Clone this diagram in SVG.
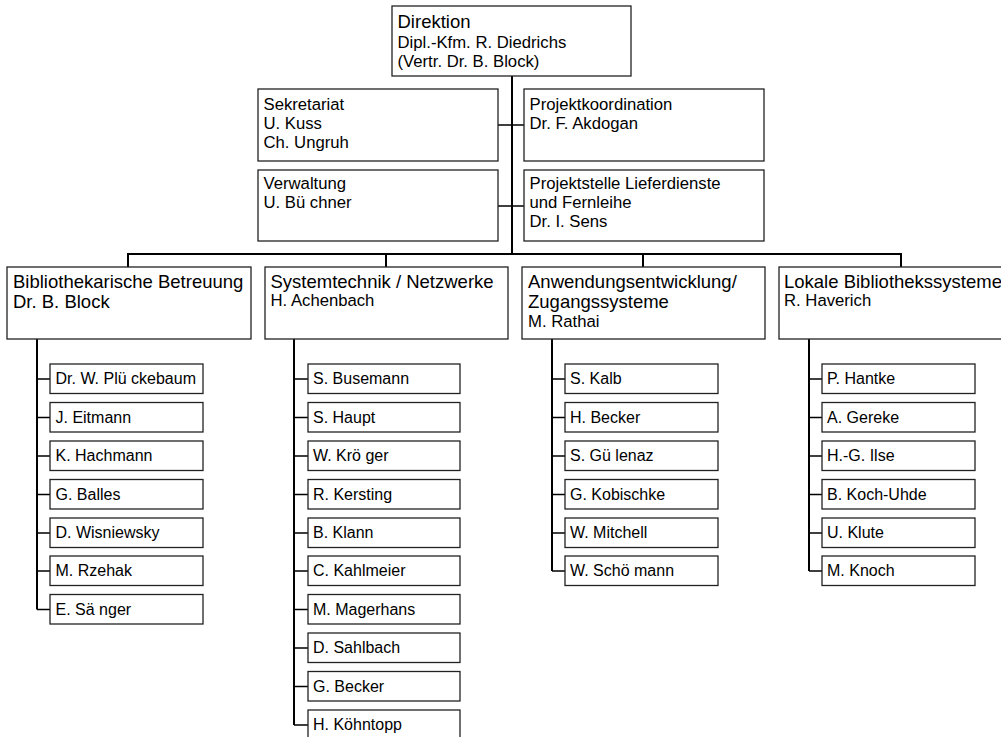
<svg xmlns="http://www.w3.org/2000/svg" width="1001" height="737" viewBox="0 0 1001 737">
<style>
.box{fill:#fff;stroke:#222;stroke-width:1.3}
.t{font-family:"Liberation Sans",Arial,sans-serif;fill:#000}
.h{font-size:18.5px}
.m{font-size:16.7px}
.s{font-size:16px}
.c{fill:none;stroke:#000;stroke-width:2}
.st{fill:none;stroke:#000;stroke-width:1.5}
</style>
<rect width="1001" height="737" fill="#fff"/>
<g id="connectors">
<path class="c" d="M512 76V254M128 254H901M128 253V267M386 253V267M643 253V267M901 253V267"/>
<path class="st" d="M498 125H524M498 206H524"/>
<path class="c" d="M37 339V609.5M294 339V725M552 339V571M809 339V571"/>
<path class="st" d="M37 379H50M37 417.5H50M37 456H50M37 494.5H50M37 533H50M37 571H50M37 609.5H50"/>
<path class="st" d="M294 379H308M294 417.5H308M294 456H308M294 494.5H308M294 533H308M294 571H308M294 609.5H308M294 648H308M294 686.5H308M294 725H308"/>
<path class="st" d="M552 379H565M552 417.5H565M552 456H565M552 494.5H565M552 533H565M552 571H565"/>
<path class="st" d="M809 379H822M809 417.5H822M809 456H822M809 494.5H822M809 533H822M809 571H822"/>
</g>
<g id="direktion"><rect class="box" x="392" y="6" width="239" height="70"/>
<text class="t h" x="397.5" y="28">Direktion</text>
<text class="t m" x="397.5" y="48">Dipl.-Kfm. R. Diedrichs</text>
<text class="t m" x="397.5" y="67">(Vertr. Dr. B. Block)</text></g>
<g id="sekretariat"><rect class="box" x="258" y="89" width="240" height="72"/>
<text class="t m" x="263.5" y="110">Sekretariat</text>
<text class="t m" x="263.5" y="129">U. Kuss</text>
<text class="t m" x="263.5" y="148">Ch. Ungruh</text></g>
<g id="projektkoordination"><rect class="box" x="524" y="89" width="240" height="72"/>
<text class="t m" x="529.5" y="110">Projektkoordination</text>
<text class="t m" x="529.5" y="129">Dr. F. Akdogan</text></g>
<g id="verwaltung"><rect class="box" x="258" y="170" width="240" height="71"/>
<text class="t m" x="263.5" y="189">Verwaltung</text>
<text class="t m" x="263.5" y="208">U. Bü chner</text></g>
<g id="projektstelle"><rect class="box" x="524" y="170" width="240" height="71"/>
<text class="t m" x="529.5" y="189">Projektstelle Lieferdienste</text>
<text class="t m" x="529.5" y="208">und Fernleihe</text>
<text class="t m" x="529.5" y="227">Dr. I. Sens</text></g>
<g id="bibliothekarische"><rect class="box" x="7" y="267" width="244" height="72"/>
<text class="t h" x="13" y="288">Bibliothekarische Betreuung</text>
<text class="t h" x="13" y="308">Dr. B. Block</text></g>
<g id="systemtechnik"><rect class="box" x="265" y="267" width="243" height="72"/>
<text class="t h" x="270.5" y="288">Systemtechnik / Netzwerke</text>
<text class="t m" x="270.5" y="306">H. Achenbach</text></g>
<g id="anwendung"><rect class="box" x="522" y="267" width="243" height="72"/>
<text class="t h" x="528" y="288">Anwendungsentwicklung/</text>
<text class="t h" x="528" y="308">Zugangssysteme</text>
<text class="t m" x="528" y="327">M. Rathai</text></g>
<g id="lokale"><rect class="box" x="779" y="267" width="244" height="72"/>
<text class="t h" x="784" y="288">Lokale Bibliothekssysteme</text>
<text class="t m" x="784" y="306">R. Haverich</text></g>
<g id="col1">
<g id="c1-1"><rect class="box" x="50" y="364" width="153" height="29.5"/><text class="t s" x="55.5" y="384">Dr. W. Plü ckebaum</text></g>
<g id="c1-2"><rect class="box" x="50" y="402.5" width="153" height="29.5"/><text class="t s" x="55.5" y="422.5">J. Eitmann</text></g>
<g id="c1-3"><rect class="box" x="50" y="441" width="153" height="29.5"/><text class="t s" x="55.5" y="461">K. Hachmann</text></g>
<g id="c1-4"><rect class="box" x="50" y="479.5" width="153" height="29.5"/><text class="t s" x="55.5" y="499.5">G. Balles</text></g>
<g id="c1-5"><rect class="box" x="50" y="518" width="153" height="29.5"/><text class="t s" x="55.5" y="538">D. Wisniewsky</text></g>
<g id="c1-6"><rect class="box" x="50" y="556" width="153" height="29.5"/><text class="t s" x="55.5" y="576">M. Rzehak</text></g>
<g id="c1-7"><rect class="box" x="50" y="594.5" width="153" height="29.5"/><text class="t s" x="55.5" y="614.5">E. Sä nger</text></g>
</g>
<g id="col2">
<g id="c2-1"><rect class="box" x="308" y="364" width="152" height="29.5"/><text class="t s" x="313" y="384">S. Busemann</text></g>
<g id="c2-2"><rect class="box" x="308" y="402.5" width="152" height="29.5"/><text class="t s" x="313" y="422.5">S. Haupt</text></g>
<g id="c2-3"><rect class="box" x="308" y="441" width="152" height="29.5"/><text class="t s" x="313" y="461">W. Krö ger</text></g>
<g id="c2-4"><rect class="box" x="308" y="479.5" width="152" height="29.5"/><text class="t s" x="313" y="499.5">R. Kersting</text></g>
<g id="c2-5"><rect class="box" x="308" y="518" width="152" height="29.5"/><text class="t s" x="313" y="538">B. Klann</text></g>
<g id="c2-6"><rect class="box" x="308" y="556" width="152" height="29.5"/><text class="t s" x="313" y="576">C. Kahlmeier</text></g>
<g id="c2-7"><rect class="box" x="308" y="594.5" width="152" height="29.5"/><text class="t s" x="313" y="614.5">M. Magerhans</text></g>
<g id="c2-8"><rect class="box" x="308" y="633" width="152" height="29.5"/><text class="t s" x="313" y="653">D. Sahlbach</text></g>
<g id="c2-9"><rect class="box" x="308" y="671.5" width="152" height="29.5"/><text class="t s" x="313" y="691.5">G. Becker</text></g>
<g id="c2-10"><rect class="box" x="308" y="710" width="152" height="29.5"/><text class="t s" x="313" y="730">H. Köhntopp</text></g>
</g>
<g id="col3">
<g id="c3-1"><rect class="box" x="565" y="364" width="153" height="29.5"/><text class="t s" x="570" y="384">S. Kalb</text></g>
<g id="c3-2"><rect class="box" x="565" y="402.5" width="153" height="29.5"/><text class="t s" x="570" y="422.5">H. Becker</text></g>
<g id="c3-3"><rect class="box" x="565" y="441" width="153" height="29.5"/><text class="t s" x="570" y="461">S. Gü lenaz</text></g>
<g id="c3-4"><rect class="box" x="565" y="479.5" width="153" height="29.5"/><text class="t s" x="570" y="499.5">G. Kobischke</text></g>
<g id="c3-5"><rect class="box" x="565" y="518" width="153" height="29.5"/><text class="t s" x="570" y="538">W. Mitchell</text></g>
<g id="c3-6"><rect class="box" x="565" y="556" width="153" height="29.5"/><text class="t s" x="570" y="576">W. Schö mann</text></g>
</g>
<g id="col4">
<g id="c4-1"><rect class="box" x="822" y="364" width="153" height="29.5"/><text class="t s" x="827" y="384">P. Hantke</text></g>
<g id="c4-2"><rect class="box" x="822" y="402.5" width="153" height="29.5"/><text class="t s" x="827" y="422.5">A. Gereke</text></g>
<g id="c4-3"><rect class="box" x="822" y="441" width="153" height="29.5"/><text class="t s" x="827" y="461">H.-G. Ilse</text></g>
<g id="c4-4"><rect class="box" x="822" y="479.5" width="153" height="29.5"/><text class="t s" x="827" y="499.5">B. Koch-Uhde</text></g>
<g id="c4-5"><rect class="box" x="822" y="518" width="153" height="29.5"/><text class="t s" x="827" y="538">U. Klute</text></g>
<g id="c4-6"><rect class="box" x="822" y="556" width="153" height="29.5"/><text class="t s" x="827" y="576">M. Knoch</text></g>
</g>
</svg>
